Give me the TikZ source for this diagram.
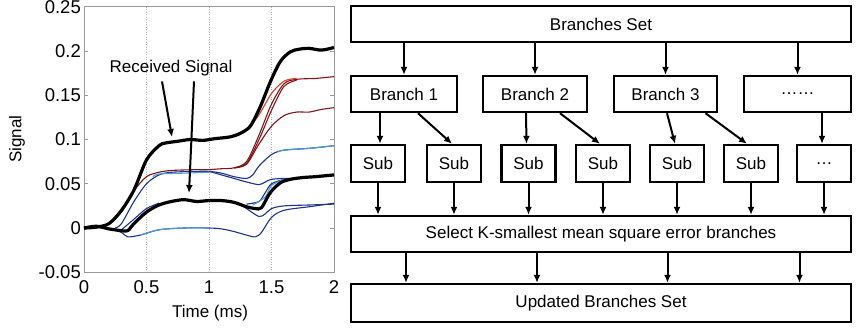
\documentclass[tikz,border=0pt]{standalone}
\usepackage{fontspec}
\setmainfont{Liberation Sans}
\usetikzlibrary{arrows.meta}
\definecolor{sigred}{RGB}{225,60,40}
\definecolor{darkred}{RGB}{130,20,25}
\definecolor{navy}{RGB}{30,50,135}
\definecolor{skyblue}{RGB}{75,155,220}

\begin{document}
\begin{tikzpicture}[x=1pt,y=-1pt,font=\fontsize{17}{20}\selectfont]
      \tikzset{block/.style={draw, line width=2.4pt, minimum height=36pt, inner sep=0pt},
               subbox/.style={block, minimum width=54pt, minimum height=37pt},
               arr/.style={line width=2pt, -{Latex[length=8pt,width=7pt]}},
               curve/.style={line width=1.1pt, smooth},
               sigline/.style={line width=3.2pt, smooth, black},
               ticklab/.style={font=\fontsize{18.5}{20}\selectfont, inner sep=1pt}}
      \useasboundingbox (0,0) rectangle (861,330);
%% Plot
      \begin{scope}[shift={(84,228)}, x=125pt, y=885pt]
        \foreach \t in {0.5,1,1.5}
          \draw[gray!60, dotted, line width=0.5pt] (\t,-0.05) -- (\t,0.25);
        \foreach \v [count=\i] in {-0.05,0,0.05,0.1,0.15,0.2,0.25} {
          \draw[gray!80, line width=0.6pt] (0,\v) -- ++(4pt,0);
          \draw[gray!80, line width=0.6pt] (2,\v) -- ++(-4pt,0);
          \node[ticklab, anchor=east] (yl\i) at ([xshift=-2pt]0,\v) {\v};
        }
        \foreach \t [count=\i] in {0,0.5,1,1.5,2}
          \node[ticklab] (xl\i) at ([yshift=-15pt]\t,-0.05) {\t};
        \draw[gray!80, line width=0.8pt] (0,-0.05) rectangle (2,0.25);
        % red traces
        \draw[curve, darkred] plot coordinates {(0.2,0.004) (0.3,0.018) (0.4,0.042) (0.5,0.058) (0.6,0.063) (0.7,0.065) (0.9,0.066) (1.0,0.066) (1.1,0.067) (1.2,0.068) (1.3,0.075) (1.4,0.105) (1.5,0.14) (1.6,0.163) (1.7,0.168) (1.85,0.169) (2,0.171)};
        \draw[curve, darkred] plot coordinates {(1.2,0.068) (1.3,0.073) (1.4,0.1) (1.5,0.133) (1.6,0.16) (1.7,0.167)};
        \draw[curve, darkred] plot coordinates {(1.2,0.068) (1.3,0.072) (1.4,0.095) (1.5,0.115) (1.6,0.127) (1.7,0.131) (1.8,0.131) (1.9,0.134) (2,0.136)};
        \draw[curve, sigred] plot coordinates {(1.2,0.103) (1.3,0.11) (1.4,0.128) (1.5,0.152) (1.6,0.166) (1.7,0.169)};
        % blue traces
        \draw[curve, navy] plot coordinates {(0.25,0.0) (0.3,0.005) (0.4,0.03) (0.5,0.05) (0.6,0.06) (0.7,0.063) (0.9,0.064) (1.0,0.064) (1.1,0.062) (1.2,0.058) (1.3,0.056) (1.35,0.06) (1.4,0.07) (1.5,0.083) (1.6,0.088) (1.8,0.09) (2,0.093)};
        \draw[curve, skyblue] plot coordinates {(0.55,0.058) (0.6,0.061) (0.8,0.062) (1.0,0.063)};
        \draw[curve, skyblue] plot coordinates {(1.55,0.086) (1.6,0.088) (1.8,0.09) (2,0.093)};
        \draw[curve, navy] plot coordinates {(1.0,0.064) (1.1,0.06) (1.2,0.056) (1.3,0.052) (1.4,0.049) (1.45,0.052) (1.5,0.055) (1.6,0.056) (1.7,0.056)};
        \draw[curve, navy] plot coordinates {(0.2,0.0) (0.3,-0.005) (0.35,-0.01) (0.45,-0.008) (0.6,-0.002) (0.8,0.0) (1.0,0.0) (1.1,-0.001) (1.2,-0.004) (1.3,-0.008) (1.37,-0.01) (1.42,-0.005) (1.5,0.012) (1.6,0.02) (1.8,0.024) (2,0.028)};
        \draw[curve, skyblue] plot coordinates {(0.45,-0.008) (0.6,-0.002) (0.8,0.0) (1.0,0.0)};
        \draw[curve, navy] plot coordinates {(1.25,0.027) (1.3,0.022) (1.4,0.013) (1.45,0.016) (1.5,0.022) (1.6,0.025) (1.8,0.026) (2,0.027)};
        \draw[curve, navy] plot coordinates {(1.3,0.027) (1.4,0.03) (1.45,0.04) (1.5,0.05) (1.6,0.055)};
        \draw[curve, skyblue] plot coordinates {(1.35,0.026) (1.45,0.035) (1.5,0.048) (1.6,0.055)};
        \draw[curve, navy] plot coordinates {(0.3,-0.002) (0.4,0.01) (0.5,0.022) (0.6,0.028)};
        % black traces
        \draw[sigline] plot coordinates {(0,0) (0.1,0.001) (0.2,0.005) (0.3,0.02) (0.4,0.043) (0.5,0.077) (0.6,0.093) (0.65,0.096) (0.75,0.098) (0.85,0.1) (0.95,0.099) (1.05,0.101) (1.17,0.103) (1.25,0.107) (1.33,0.115) (1.41,0.137) (1.49,0.165) (1.57,0.188) (1.65,0.199) (1.72,0.202) (1.8,0.203) (1.9,0.201) (2,0.204)};
        \draw[sigline] plot coordinates {(0,0) (0.1,0.002) (0.2,-0.001) (0.3,-0.003) (0.35,-0.003) (0.4,0.005) (0.5,0.018) (0.6,0.026) (0.7,0.03) (0.8,0.032) (0.9,0.03) (1.0,0.031) (1.1,0.031) (1.2,0.029) (1.3,0.024) (1.37,0.022) (1.42,0.023) (1.49,0.04) (1.57,0.051) (1.65,0.055) (1.75,0.057) (1.85,0.058) (2,0.06)};
      \end{scope}
      \node (xlab) at (210,313) {Time (ms)};
      \node[rotate=90] (ylab) at (17,139) {Signal};
      \node (rsig) at (171,68) {Received Signal};
      \coordinate (tip1) at (172,137);
      \coordinate (tip2) at (189,193);
      \draw[arr] ([xshift=-9pt,yshift=-2pt]rsig.south) -- (tip1);
      \draw[arr] ([xshift=23pt,yshift=-2pt]rsig.south) -- (tip2);
%% Blocks
      \node[block, minimum width=500pt] (bset) at (601,24) {Branches Set};
      \node[block, minimum width=106pt] (br1) at (404,94) {Branch 1};
      \node[block, minimum width=104pt] (br2) at (535,94) {Branch 2};
      \node[block, minimum width=103pt] (br3) at (665.5,94) {Branch 3};
      \node[block, minimum width=107pt] (brd) at (797.5,94) {……};
      \foreach \x/\n in {378/s1,454/s2,528.5/s3,603/s4,677/s5,751/s6}
        \node[subbox] (\n) at (\x,163.5) {Sub};
      \node[subbox] (sd) at (824,163.5) {…};
      \node[block, minimum width=500pt] (sel) at (601,234) {Select K-smallest mean square error branches};
      \node[block, minimum width=500pt, minimum height=38pt] (upd) at (601,303) {Updated Branches Set};
%% Arrows
      \foreach \n in {br1,br2,br3,brd}
        \draw[arr] (\n |- bset.south) -- (\n.north);
      \draw[arr] ([xshift=-24pt]br1.south) -- ([xshift=2pt]s1.north);
      \draw[arr] ([xshift=14pt]br1.south) -- ([xshift=-2pt]s2.north);
      \draw[arr] ([xshift=-9pt]br2.south) -- ([xshift=-2pt]s3.north);
      \draw[arr] ([xshift=25pt]br2.south) -- ([xshift=-3pt]s4.north);
      \draw[arr] ([xshift=1.5pt]br3.south) -- ([xshift=-2pt]s5.north);
      \draw[arr] ([xshift=40pt]br3.south) -- ([xshift=-4pt]s6.north);
      \draw[arr] ([xshift=-2pt]sd |- brd.south) -- ([xshift=-2pt]sd.north);
      \foreach \n in {s1,s2,s3,s4,s5,s6,sd}
        \draw[arr] (\n.south) -- (\n.south |- sel.north);
      \foreach \n in {br1,br2,br3,brd}
        \draw[arr] ([xshift=2pt]\n |- sel.south) -- ([xshift=2pt]\n |- upd.north);
\end{tikzpicture}
\end{document}
